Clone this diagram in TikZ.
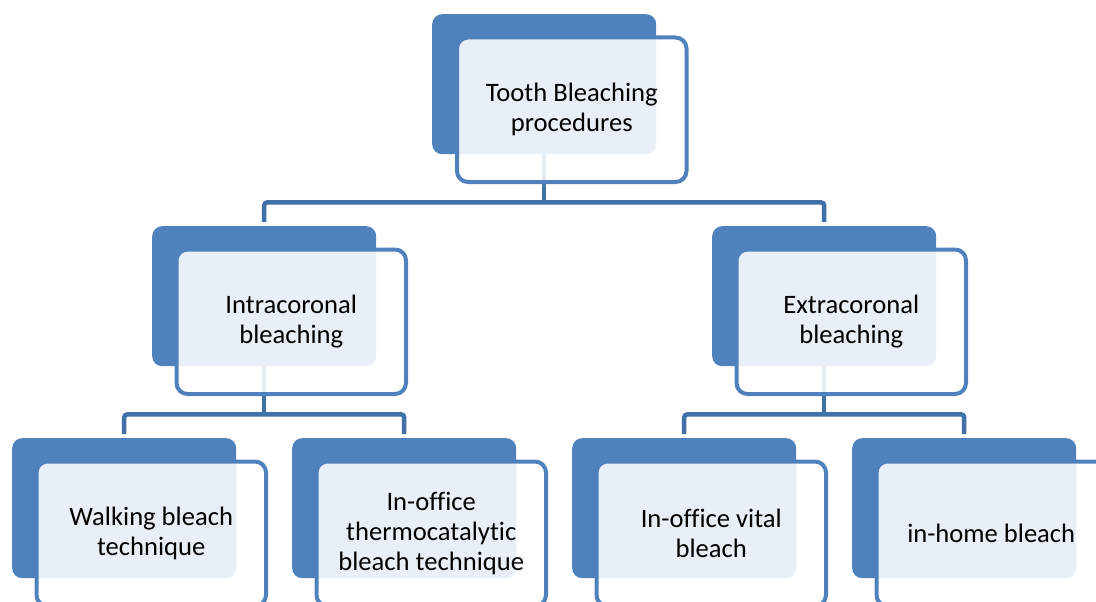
\documentclass[tikz,border=0pt]{standalone}
\usepackage{fontspec}
\setmainfont{Carlito}[Ligatures=NoCommon]
\definecolor{accent}{RGB}{79,129,189}
\definecolor{connc}{RGB}{65,113,167}
\tikzset{
  backbox/.style={draw=none, fill=accent, rounded corners=10pt, minimum width=224pt, minimum height=140pt, inner sep=0pt, anchor=north west},
  frontbox/.style={draw=accent, line width=4pt, fill=white, fill opacity=0.88, text opacity=1, rounded corners=11pt, minimum width=229.5pt, minimum height=144.5pt, inner sep=0pt, anchor=north west, align=center, font=\fontsize{26.6}{30}\selectfont, text=black},
  connector/.style={draw=connc, line width=4.5pt, rounded corners=3pt}
}
\begin{document}
\begin{tikzpicture}[x=1pt,y=-1pt]
\useasboundingbox (0,0) rectangle (1096,602);
\clip (0,0) rectangle (1096,602);
% back boxes
\node[backbox] (t)  at (432,14) {};
\node[backbox] (a)  at (152,226) {};
\node[backbox] (b)  at (712,226) {};
\node[backbox] (a1) at (12,438) {};
\node[backbox] (a2) at (292,438) {};
\node[backbox] (b1) at (572,438) {};
\node[backbox] (b2) at (852,438) {};
% connectors
\draw[connector] (t.south) -- ++(0,48) coordinate (tbar);
\draw[connector] ([yshift=4pt]a.north) |- (tbar) -| ([yshift=4pt]b.north);
\draw[connector] (a.south) -- ++(0,48) coordinate (abar);
\draw[connector] ([yshift=4pt]a1.north) |- (abar) -| ([yshift=4pt]a2.north);
\draw[connector] (b.south) -- ++(0,48) coordinate (bbar);
\draw[connector] ([yshift=4pt]b1.north) |- (bbar) -| ([yshift=4pt]b2.north);
% front boxes
\node[frontbox] (tf)  at (455,35.5) {Tooth Bleaching\\procedures};
\node[frontbox] (af)  at (174.5,247.5) {Intracoronal\\bleaching};
\node[frontbox] (bf)  at (734.5,247.5) {Extracoronal\\bleaching};
\node[frontbox] (a1f) at (34.5,459.5) {Walking bleach\\technique};
\node[frontbox] (a2f) at (314.5,459.5) {In-office\\thermocatalytic\\bleach technique};
\node[frontbox] (b1f) at (594.5,459.5) {In-office vital\\bleach};
\node[frontbox] (b2f) at (874.5,459.5) {in-home bleach};
\end{tikzpicture}
\end{document}
